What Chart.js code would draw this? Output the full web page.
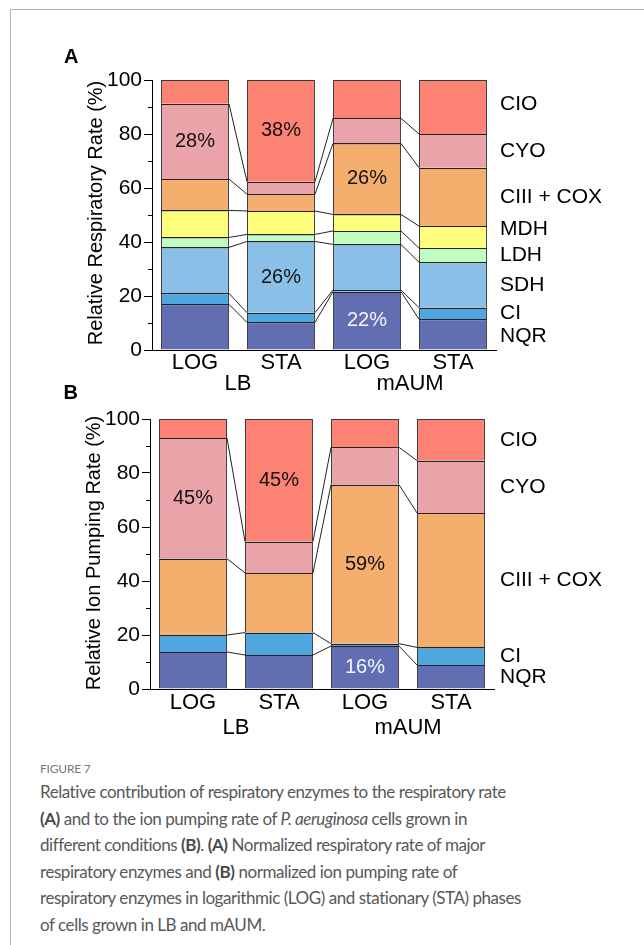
<!DOCTYPE html>
<html><head><meta charset="utf-8">
<script src="https://cdn.jsdelivr.net/npm/chart.js@4"></script>
<style>
html,body{margin:0;padding:0;background:#fff;width:644px;height:945px;overflow:hidden;position:relative;}
#frame{position:absolute;left:10px;top:9px;right:-2px;bottom:-2px;border-left:1px solid #b3b3b3;border-top:1px solid #b3b3b3;}
canvas{position:absolute;left:0;}
#cA{top:0;}
#cB{top:370px;}
.plet{position:absolute;font:bold 20px 'Liberation Sans',Arial,sans-serif;line-height:20px;color:#000;}
#fig{position:absolute;left:40px;top:762.5px;font:12px Lato,'Open Sans',sans-serif;line-height:12px;color:#777;letter-spacing:-0.2px;}
#cap{position:absolute;left:40px;top:779.2px;font:17px Lato,'Open Sans',sans-serif;line-height:26.5px;color:#585858;white-space:nowrap;letter-spacing:-0.45px;}
#cap b{font-weight:700;color:#4a4a4a;}
</style></head>
<body>
<div id="frame"></div>
<canvas id="cA" width="644" height="400"></canvas>
<canvas id="cB" width="644" height="380"></canvas>
<div class="plet" style="left:64px;top:45.7px;">A</div>
<div class="plet" style="left:63.5px;top:382.4px;">B</div>
<div id="fig">FIGURE 7</div>
<div id="cap">Relative contribution of respiratory enzymes to the respiratory rate<br><b>(A)</b> and to the ion pumping rate of <i>P. aeruginosa</i> cells grown in<br>different conditions <b>(B)</b>. <b>(A)</b> Normalized respiratory rate of major<br>respiratory enzymes and <b>(B)</b> normalized ion pumping rate of<br>respiratory enzymes in logarithmic (LOG) and stationary (STA) phases<br>of cells grown in LB and mAUM.</div>
<script>
// ---- data ----
const categories = ['LOG', 'STA', 'LOG', 'STA'];
const groups = ['LB', 'mAUM'];
const yTicks = [0, 20, 40, 60, 80, 100];

// Panel A: relative respiratory rate (%)
const enzymesA = ['NQR', 'CI', 'SDH', 'LDH', 'MDH', 'CIII + COX', 'CYO', 'CIO'];
const nqrA  = [16.9, 10.2, 21.6, 11.4];
const ciA   = [4.1, 3.6, 0.6, 4.3];
const sdhA  = [17.0, 26.4, 16.9, 16.8];
const ldhA  = [3.7, 2.6, 5.0, 5.2];
const mdhA  = [10.0, 8.7, 6.1, 8.2];
const ciiiA = [11.6, 6.2, 26.3, 21.6];
const cyoA  = [27.9, 4.6, 9.3, 12.5];
const cioA  = [8.8, 37.7, 14.2, 20.0];
const seriesA = [nqrA, ciA, sdhA, ldhA, mdhA, ciiiA, cyoA, cioA];
const pctA = [['CYO', 0], ['CIO', 1], ['SDH', 1], ['CIII + COX', 2], ['NQR', 2]];

// Panel B: relative ion pumping rate (%)
const enzymesB = ['NQR', 'CI', 'CIII + COX', 'CYO', 'CIO'];
const nqrB  = [13.7, 12.6, 15.9, 8.9];
const ciB   = [6.3, 8.3, 0.9, 6.5];
const ciiiB = [28.3, 22.1, 58.9, 49.8];
const cyoB  = [44.7, 11.6, 13.8, 19.4];
const cioB  = [7.0, 45.4, 10.5, 15.4];
const seriesB = [nqrB, ciB, ciiiB, cyoB, cioB];
const pctB = [['CYO', 0], ['CIO', 1], ['CIII + COX', 2], ['NQR', 2]];

// ---- styles ----
const colors = {
  'NQR': '#626eb2', 'CI': '#50a7df', 'SDH': '#8abfe8', 'LDH': '#c2fdc0',
  'MDH': '#fffd7c', 'CIII + COX': '#f4ae6e', 'CYO': '#eba3aa', 'CIO': '#fc8274'
};
const FONT = "'Liberation Sans', Arial, sans-serif";
Chart.defaults.font.family = FONT;
Chart.defaults.color = '#000';

const overlay = {
  id: 'overlay',
  afterDatasetsDraw(chart, args, o) {
    const ctx = chart.ctx;
    const n = chart.data.datasets.length;
    ctx.save();
    ctx.strokeStyle = '#222';
    ctx.lineWidth = 1;
    for (let d = 0; d < n - 1; d++) {
      const els = chart.getDatasetMeta(d).data;
      for (let i = 0; i < els.length; i++) {
        const a = els[i];
        // segment boundary across the bar
        const yb = Math.round(a.y) + 0.5;
        ctx.beginPath();
        ctx.moveTo(a.x - a.width / 2, yb);
        ctx.lineTo(a.x + a.width / 2, yb);
        ctx.stroke();
        if (i < els.length - 1) {
          const b = els[i + 1];
          ctx.beginPath();
          ctx.moveTo(a.x + a.width / 2, a.y);
          ctx.lineTo(b.x - b.width / 2, b.y);
          ctx.stroke();
        }
      }
    }
    ctx.restore();
  },
  afterDraw(chart, args, o) {
    const ctx = chart.ctx;
    const ca = chart.chartArea;
    const ys = chart.scales.y, xs = chart.scales.x;
    const ds = chart.data.datasets;
    ctx.save();
    // minor ticks
    ctx.strokeStyle = '#000'; ctx.lineWidth = 1;
    for (let v = 10; v < 100; v += 20) {
      const py = Math.round(ys.getPixelForValue(v)) + 0.5;
      ctx.beginPath(); ctx.moveTo(ca.left - 4, py); ctx.lineTo(ca.left, py); ctx.stroke();
    }
    // y title
    ctx.save();
    ctx.translate(o.titleX, (ca.top + ca.bottom) / 2 + (o.titleDy || 0));
    ctx.rotate(-Math.PI / 2);
    ctx.font = '20px ' + FONT;
    ctx.fillStyle = '#000';
    ctx.textAlign = 'center'; ctx.textBaseline = 'alphabetic';
    ctx.fillText(o.title, 0, 0);
    ctx.restore();
    // group labels
    ctx.font = '22px ' + FONT;
    ctx.fillStyle = '#000';
    ctx.textAlign = 'center'; ctx.textBaseline = 'middle';
    groups.forEach((g, k) => {
      const x = (xs.getPixelForValue(2 * k) + xs.getPixelForValue(2 * k + 1)) / 2;
      ctx.fillText(g, x, ca.bottom + o.groupDy);
    });
    // right-side labels (centered on last bar segments)
    ctx.font = '21px ' + FONT;
    ctx.textAlign = 'left';
    const last = categories.length - 1;
    ds.forEach((d, i) => {
      const el = chart.getDatasetMeta(i).data[last];
      const y = (el.y + el.base) / 2 + ((o.nudge && o.nudge[d.label]) || 0);
      ctx.fillText(d.label, ca.right + o.labelDx, y);
    });
    // percent labels
    ctx.font = '20px ' + FONT;
    ctx.textAlign = 'center';
    o.pct.forEach(([name, bar]) => {
      const i = ds.findIndex(d => d.label === name);
      const el = chart.getDatasetMeta(i).data[bar];
      ctx.fillStyle = name === 'NQR' ? '#f4f4ff' : '#111';
      ctx.fillText(Math.round(ds[i].data[bar]) + '%', el.x, (el.y + el.base) / 2);
    });
    ctx.restore();
  }
};

function makeChart(id, names, series, geo, pluginOpts) {
  const H = document.getElementById(id).height;
  return new Chart(document.getElementById(id), {
    type: 'bar',
    data: {
      labels: categories,
      datasets: names.map((nm, i) => ({
        label: nm,
        data: series[i],
        backgroundColor: colors[nm],
        borderColor: '#3a3a3a',
        borderWidth: 1,
        inflateAmount: 0,
        barPercentage: 0.79,
        categoryPercentage: 1.0
      }))
    },
    options: {
      responsive: false,
      animation: false,
      events: [],
      layout: { padding: { left: 0, right: 644 - geo.right, top: geo.top, bottom: 0 } },
      plugins: { legend: { display: false }, tooltip: { enabled: false }, overlay: pluginOpts },
      scales: {
        x: {
          stacked: true,
          offset: true,
          grid: { display: false, drawTicks: false },
          border: { display: true, color: '#000', width: 1 },
          ticks: { font: { size: 22 }, color: '#000', padding: geo.catPad, maxRotation: 0, autoSkip: false },
          afterFit: s => { s.height = H - geo.bottom; }
        },
        y: {
          stacked: true,
          min: 0, max: 100,
          afterBuildTicks: s => { s.ticks = yTicks.map(v => ({ value: v })); },
          grid: { drawOnChartArea: false, tickLength: 8, color: '#000', tickColor: '#000' },
          border: { display: true, color: '#000', width: 1 },
          ticks: { font: { size: 21 }, color: '#000', padding: 2 },
          afterFit: s => { s.width = geo.left; }
        }
      }
    },
    plugins: [overlay]
  });
}

makeChart('cA', enzymesA, seriesA,
  { left: 152, right: 496, top: 80, bottom: 350, catPad: 0 },
  { title: 'Relative Respiratory Rate (%)', titleX: 101.5, titleDy: -2, groupDy: 34, labelDx: 4,
    nudge: { 'CIO': -3, 'MDH': -8, 'NQR': 2 }, pct: pctA });

makeChart('cB', enzymesB, seriesB,
  { left: 150, right: 494, top: 49, bottom: 319, catPad: 1 },
  { title: 'Relative Ion Pumping Rate (%)', titleX: 100, titleDy: -1, groupDy: 39, labelDx: 6,
    nudge: {}, pct: pctB });
</script>
</body></html>
